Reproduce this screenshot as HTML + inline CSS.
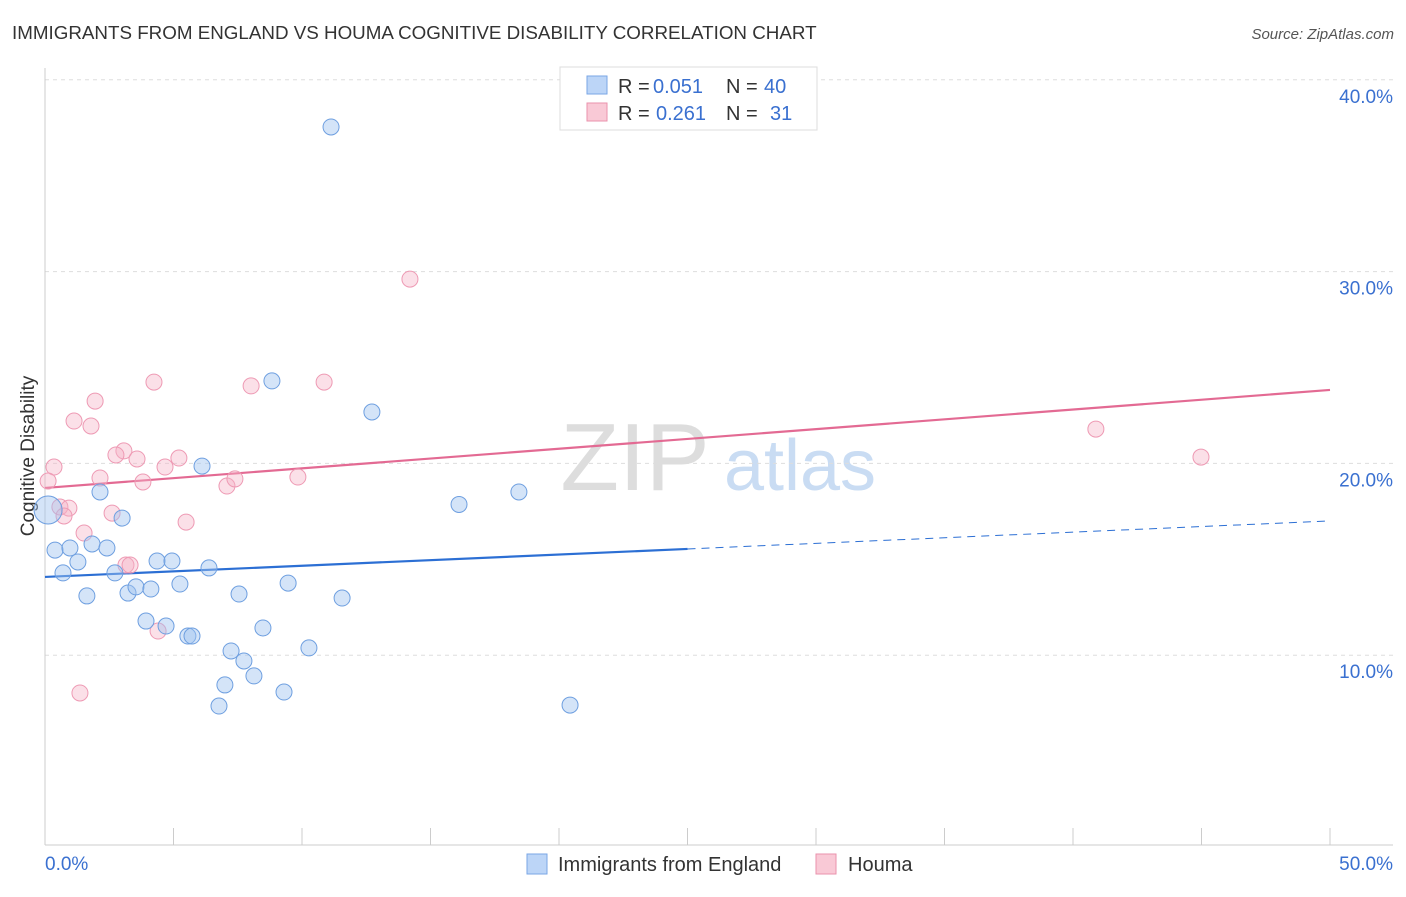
<!DOCTYPE html>
<html><head><meta charset="utf-8"><style>
body{margin:0;background:#fff;font-family:"Liberation Sans",sans-serif}
svg text{font-family:"Liberation Sans",sans-serif}
</style></head><body>
<svg id="c" width="1406" height="892">
<text x="12" y="39" font-size="18.8" fill="#333">IMMIGRANTS FROM ENGLAND VS HOUMA COGNITIVE DISABILITY CORRELATION CHART</text>
<text x="1394" y="39" font-size="15" fill="#555" text-anchor="end" font-style="italic">Source: ZipAtlas.com</text>
<g><text x="635" y="490" font-size="96" fill="#ddd" font-family="Liberation Serif" text-anchor="middle">ZIP</text><text x="800" y="490" font-size="72" fill="#c9dcf3" text-anchor="middle">atlas</text></g>
<text transform="translate(34,456) rotate(-90)" font-size="19" fill="#333" text-anchor="middle">Cognitive Disability</text>
<g id="grid"></g><g id="axes"></g><g id="trend"></g><g id="pts"></g>
<g>
<rect x="560" y="67" width="257" height="63" fill="#fff" stroke="#ddd"/>
<rect x="587" y="76" width="20" height="18" fill="#bcd5f7" stroke="#7aa6e6"/>
<text x="618" y="93" font-size="20" fill="#333">R =</text>
<text x="653" y="93" font-size="20" fill="#3a70d0">0.051</text>
<text x="726" y="93" font-size="20" fill="#333">N =</text>
<text x="764" y="93" font-size="20" fill="#3a70d0">40</text>
<rect x="587" y="103" width="20" height="18" fill="#f9c9d6" stroke="#ea92ac"/>
<text x="618" y="120" font-size="20" fill="#333">R =</text>
<text x="656" y="120" font-size="20" fill="#3a70d0">0.261</text>
<text x="726" y="120" font-size="20" fill="#333">N =</text>
<text x="770" y="120" font-size="20" fill="#3a70d0">31</text>
</g>
<g>
<rect x="527" y="854" width="20" height="20" fill="#bcd5f7" stroke="#7aa6e6"/>
<text x="558" y="871" font-size="20" fill="#333">Immigrants from England</text>
<rect x="816" y="854" width="20" height="20" fill="#f9c9d6" stroke="#ea92ac"/>
<text x="848" y="871" font-size="20" fill="#333">Houma</text>
</g>
</svg>
<script>
const blueX=[11.13,8.83,12.72,16.11,18.44,6.11,2.14,3.00,0.39,0.97,1.28,0.70,1.83,2.41,2.72,1.63,3.23,3.54,4.12,4.36,4.94,5.25,6.38,7.55,3.93,4.71,5.56,5.72,7.24,7.74,8.13,7.00,6.77,8.48,9.46,9.30,10.27,11.56,20.43,0.12];
const blueY=[37.54,24.30,22.68,17.86,18.51,19.86,18.51,17.15,15.48,15.59,14.86,14.29,15.80,15.59,14.29,13.09,13.24,13.56,13.45,14.91,14.91,13.71,14.55,13.19,11.78,11.52,11.00,11.00,10.22,9.70,8.92,8.45,7.35,11.42,13.76,8.08,10.38,12.98,7.40,17.57];
const pinkX=[14.20,4.24,8.02,10.86,1.95,1.13,1.79,0.35,0.12,3.07,2.76,3.58,4.67,5.21,2.14,3.81,7.08,7.39,9.84,0.58,0.93,0.74,2.61,1.52,5.49,3.15,3.31,4.40,1.36,40.89,44.98];
const pinkY=[29.61,24.24,24.04,24.24,23.25,22.21,21.95,19.81,19.08,20.65,20.44,20.23,19.81,20.28,19.24,19.03,18.82,19.19,19.29,17.73,17.67,17.26,17.41,16.37,16.94,14.70,14.70,11.26,8.03,21.79,20.33];
const blueTrend=[14.08,17.0];
const pinkTrend=[18.72,23.83];
const yTicks=[10,20,30,40];
const xTicks=[0,5,10,15,20,25,30,35,40,45,50];
const NS='http://www.w3.org/2000/svg';
const X=v=>45+v*25.7, Y=v=>847-v*19.18;
function mk(t,a,p){const e=document.createElementNS(NS,t);for(const k in a)e.setAttribute(k,a[k]);document.getElementById(p).appendChild(e);return e;}
yTicks.forEach(t=>{
 let g=mk('line',{x1:45,x2:1393,y1:Y(t),y2:Y(t),stroke:'#ddd','stroke-dasharray':'4,4'},'grid');
 
 
 let l=mk('text',{x:1393,y:Y(t)+23,'font-size':19,fill:'#3a70d0','text-anchor':'end'},'grid');l.textContent=t.toFixed(1)+'%';
 
 
});
mk('line',{x1:45,x2:45,y1:68,y2:845,stroke:'#ccc'},'axes');
mk('line',{x1:45,x2:1393,y1:845,y2:845,stroke:'#ccc'},'axes');
xTicks.forEach(t=>{let e=mk('line',{x1:X(t),x2:X(t),y1:828,y2:845,stroke:'#ccc'},'axes');
 
 });
let a=mk('text',{x:45,y:870,'font-size':19,fill:'#3a70d0'},'axes');a.textContent='0.0%';


let b=mk('text',{x:1393,y:870,'font-size':19,fill:'#3a70d0','text-anchor':'end'},'axes');b.textContent='50.0%';


const bm=v=>blueTrend[0]+(blueTrend[1]-blueTrend[0])*v/50;
let t1=mk('line',{x1:X(0),y1:Y(bm(0)),x2:X(25),y2:Y(bm(25)),stroke:'#2c6fd4','stroke-width':2.2},'trend');


let t2=mk('line',{x1:X(25),y1:Y(bm(25)),x2:X(50),y2:Y(bm(50)),stroke:'#2c6fd4','stroke-width':1,'stroke-dasharray':'8,6'},'trend');


let t3=mk('line',{x1:X(0),y1:Y(pinkTrend[0]),x2:X(50),y2:Y(pinkTrend[1]),stroke:'#e36a93','stroke-width':2.2},'trend');


pinkX.forEach((v,i)=>{let c=mk('circle',{cx:X(v),cy:Y(pinkY[i]),r:8,fill:'rgba(246,178,198,0.4)',stroke:'#ee9ab4','stroke-width':1},'pts');
 
 });
blueX.forEach((v,i)=>{let c=mk('circle',{cx:X(v),cy:Y(blueY[i]),r:i==blueX.length-1?14:8,fill:'rgba(160,195,240,0.45)',stroke:'#6e9fe0','stroke-width':1},'pts');
 
 });
</script>
</body></html>
